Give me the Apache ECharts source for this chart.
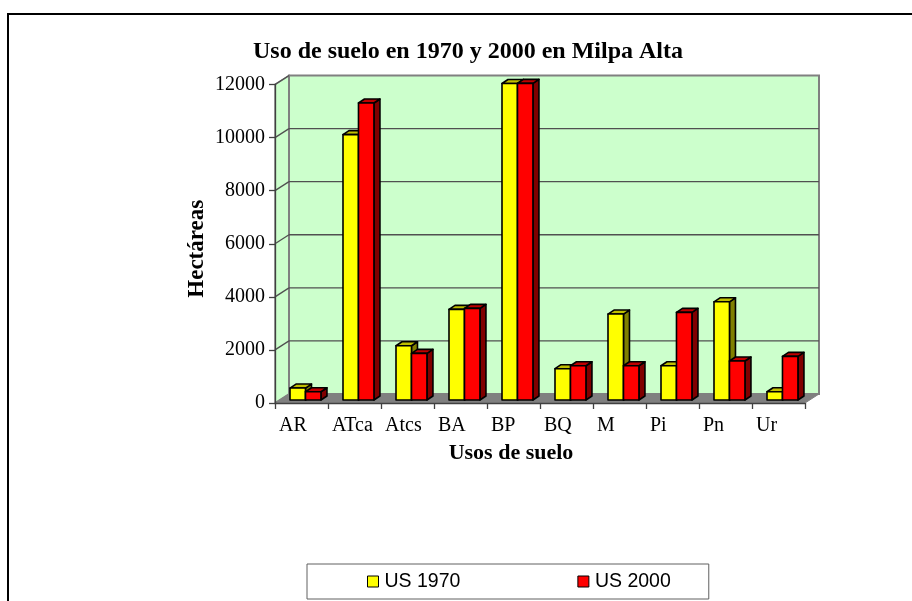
<!DOCTYPE html>
<html>
<head>
<meta charset="utf-8">
<style>html,body{margin:0;padding:0;background:#fff}#c{width:912px;height:601px}</style>
<script src="https://cdn.jsdelivr.net/npm/echarts@6/dist/echarts.min.js"></script>
</head>
<body>
<div id="c"></div>
<script>
var categories = ['AR','ATca','Atcs','BA','BP','BQ','M','Pi','Pn','Ur'];
var us1970 = [450,10000,2045,3414,11925,1180,3238,1290,3700,310];
var us2000 = [310,11190,1757,3452,11930,1290,1290,3300,1470,1645];
var yTicks = [0,2000,4000,6000,8000,10000,12000];

var serif = '"Liberation Serif","Times New Roman",serif';
var sans = '"Liberation Sans",Arial,sans-serif';
var wallDx = 14, wallDy = -9;      // depth of the chart box
var barDx = 6, barDy = -4;         // depth of each bar
var planeDx = 0, planeDy = -3;     // bars stand a little behind the front edge

function wallItem(params, api) {
  var v = api.value(0);
  var y = api.coord([0, v])[1];
  var size = api.size([1, 0])[0];
  var x0 = api.coord([0, 0])[0] - size / 2;
  var x1 = x0 + size * categories.length;
  var yTop = api.coord([0, 12000])[1];
  var yBase = api.coord([0, 0])[1];
  var kids = [];
  if (v === 0) {
    kids.push({type:'polygon', shape:{points:[[x0,yBase],[x0+wallDx,yBase+wallDy],[x0+wallDx,yTop+wallDy],[x0,yTop]]},
      style:{fill:'#CCFFCC', stroke:'#808080', lineWidth:1.5}});
    kids.push({type:'rect', shape:{x:x0+wallDx,y:yTop+wallDy,width:x1-x0,height:yBase-yTop},
      style:{fill:'#CCFFCC', stroke:'#808080', lineWidth:2}});
    kids.push({type:'polygon', shape:{points:[[x0,yBase],[x0+wallDx,yBase+wallDy],[x1+wallDx,yBase+wallDy],[x1,yBase]]},
      style:{fill:'#808080', stroke:'#808080', lineWidth:1}});
  } else {
    kids.push({type:'polyline', shape:{points:[[x0,y],[x0+wallDx,y+wallDy]]}, style:{fill:null, stroke:'#505050', lineWidth:1.3}});
    if (v < 12000) {
      kids.push({type:'line', shape:{x1:x0+wallDx,y1:y+wallDy,x2:x1+wallDx,y2:y+wallDy}, style:{stroke:'#505050', lineWidth:1.3}});
    }
  }
  return {type:'group', children:kids};
}

function barRenderer(offset, front, top, side) {
  return function (params, api) {
    var p = api.coord([api.value(0), api.value(1)]);
    var base = api.coord([api.value(0), 0])[1] + planeDy;
    var size = api.size([1, 0])[0];
    var w = size * 0.292;
    var x = p[0] + planeDx + offset * size;
    var y = p[1] + planeDy;
    var line = {stroke:'#000', lineWidth:1.6, lineJoin:'round'};
    return {type:'group', children:[
      {type:'polygon', shape:{points:[[x+w,y],[x+w+barDx,y+barDy],[x+w+barDx,base+barDy],[x+w,base]]}, style:Object.assign({fill:side}, line)},
      {type:'polygon', shape:{points:[[x,y],[x+barDx,y+barDy],[x+w+barDx,y+barDy],[x+w,y]]}, style:Object.assign({fill:top}, line)},
      {type:'rect', shape:{x:x,y:y,width:w,height:base-y}, style:Object.assign({fill:front}, line)}
    ]};
  };
}

function pairs(values) { return values.map(function (v, i) { return [i, v]; }); }

var chart = echarts.init(document.getElementById('c'), null, {renderer:'canvas'});
chart.setOption({
  animation:false,
  backgroundColor:'#fff',
  title:{text:'Uso de suelo en 1970 y 2000 en Milpa Alta', left:463, top:35, textAlign:'center',
    textStyle:{fontFamily:serif, fontWeight:'bold', fontSize:24, color:'#000'}},
  grid:{left:275, right:107, top:84.5, bottom:198, containLabel:false},
  xAxis:{type:'category', data:categories, name:'Usos de suelo', nameLocation:'middle', nameGap:39,
    nameTextStyle:{fontFamily:serif, fontWeight:'bold', fontSize:22, color:'#000', padding:[0,58,0,0]},
    axisLine:{lineStyle:{color:'#404040', width:1.3}},
    axisTick:{show:true, length:6, alignWithLabel:false, lineStyle:{color:'#404040', width:1.3}},
    axisLabel:{interval:0, margin:13, formatter:function(v){return '{a|'+v+'}';},
      rich:{a:{width:45, align:'left', fontFamily:serif, fontSize:20, color:'#000'}}}},
  yAxis:{type:'value', min:0, max:12000, interval:2000, name:'Hectáreas', nameLocation:'middle', nameGap:66, nameRotate:90, nameMoveOverlap:false,
    nameTextStyle:{fontFamily:serif, fontWeight:'bold', fontSize:23, color:'#000', padding:[0,10,0,0]},
    axisLine:{show:true, lineStyle:{color:'#404040', width:1.3}},
    axisTick:{show:true, length:6, lineStyle:{color:'#404040', width:1.3}},
    axisLabel:{margin:10, fontFamily:serif, fontSize:20, color:'#000', padding:[2,0,0,0], formatter:function(v){return String(v);}},
    splitLine:{show:false}},
  legend:{left:307, top:564, padding:[7.5,38,7.5,60], itemGap:117, itemWidth:11, itemHeight:11,
    borderColor:'#606060', borderWidth:1, icon:'rect', selectedMode:false,
    textStyle:{fontFamily:sans, fontSize:19.5, color:'#000', padding:[0,0,0,1]},
    data:[{name:'US 1970', icon:'rect', itemStyle:{color:'#FFFF00', borderColor:'#000', borderWidth:1}},
          {name:'US 2000', icon:'rect', itemStyle:{color:'#FF0000', borderColor:'#000', borderWidth:1}}]},
  graphic:[{type:'rect', silent:true, z:-10, shape:{x:8,y:14,width:1000,height:700},
    style:{fill:null, stroke:'#000', lineWidth:2}}],
  series:[
    {type:'custom', name:'walls', z:-1, silent:true, coordinateSystem:'cartesian2d',
      data:yTicks.map(function(v){return [v];}), encode:{y:0}, renderItem:wallItem},
    {type:'custom', name:'US 1970', z:3, coordinateSystem:'cartesian2d', data:pairs(us1970), encode:{x:0,y:1},
      itemStyle:{color:'#FFFF00'}, renderItem:barRenderer(-0.217,'#FFFF00','#BFBF00','#808000')},
    {type:'custom', name:'US 2000', z:3, coordinateSystem:'cartesian2d', data:pairs(us2000), encode:{x:0,y:1},
      itemStyle:{color:'#FF0000'}, renderItem:barRenderer(0.075,'#FF0000','#BF0000','#800000')}
  ]
});
</script>
</body>
</html>
